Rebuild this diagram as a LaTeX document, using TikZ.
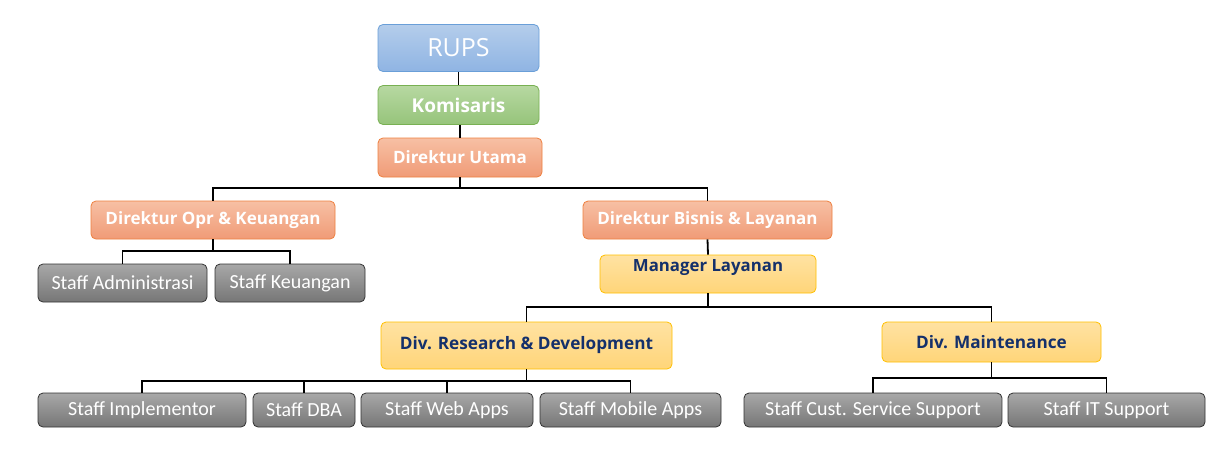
\documentclass[tikz,border=0pt]{standalone}
\usepackage{fontspec}
\setmainfont{Open Sans}
\newfontfamily\stafffont{Carlito}
\definecolor{bluetop}{HTML}{B4CDEB}
\definecolor{bluebot}{HTML}{8FB4E3}
\definecolor{blueline}{HTML}{6A9FD8}
\definecolor{greentop}{HTML}{B7D8A2}
\definecolor{greenbot}{HTML}{96C47A}
\definecolor{greenline}{HTML}{78B052}
\definecolor{orangetop}{HTML}{F7C0A4}
\definecolor{orangebot}{HTML}{F09B77}
\definecolor{orangeline}{HTML}{EE8040}
\definecolor{yellowtop}{HTML}{FFE2A2}
\definecolor{yellowbot}{HTML}{FFD579}
\definecolor{yellowline}{HTML}{FFC000}
\definecolor{navytext}{HTML}{14306B}
\definecolor{graytop}{HTML}{A8A8A8}
\definecolor{graybot}{HTML}{767676}
\definecolor{grayline}{HTML}{333333}
\begin{document}
\begin{tikzpicture}[x=1pt,y=-1pt,
  base/.style={rectangle, rounded corners=5pt, line width=0.8pt, inner sep=0pt, anchor=center},
  bluebox/.style={base, draw=blueline, top color=bluetop, bottom color=bluebot, text=white, font=\fontsize{25}{28}\selectfont},
  greenbox/.style={base, draw=greenline, top color=greentop, bottom color=greenbot, text=white, font=\bfseries\fontsize{19}{22}\selectfont},
  orangebox/.style={base, draw=orangeline, top color=orangetop, bottom color=orangebot, text=white, font=\bfseries\fontsize{17}{20}\selectfont},
  yellowbox/.style={base, draw=yellowline, top color=yellowtop, bottom color=yellowbot, text=navytext, font=\bfseries\fontsize{17.2}{20}\selectfont},
  graybox/.style={base, draw=grayline, top color=graytop, bottom color=graybot, text=white, font=\stafffont\fontsize{20}{24}\selectfont},
  link/.style={draw=black, line width=1.8pt}
]
\useasboundingbox[fill=white] (0,0) rectangle (1223,461);

\node[bluebox, minimum width=161pt, minimum height=47pt] (rups) at (458.5,48) {RUPS};
\node[greenbox, minimum width=161pt, minimum height=39pt] (kom) at (458.5,105) {Komisaris};
\node[orangebox, minimum width=164pt, minimum height=39pt] (dirut) at (460,157.5) {Direktur Utama};
\node[orangebox, minimum width=244pt, minimum height=38pt] (dopr) at (213,220) {Direktur Opr \& Keuangan};
\node[orangebox, minimum width=249pt, minimum height=38pt] (dbis) at (707.5,220) {Direktur Bisnis \& Layanan};
\node[graybox, minimum width=169pt, minimum height=38pt] (sadm) at (122.5,283) {Staff Administrasi};
\node[graybox, minimum width=150pt, minimum height=38pt] (skeu) at (290,283) {Staff Keuangan};
\node[yellowbox, minimum width=216pt, minimum height=38pt,
      label={[navytext, font=\bfseries\fontsize{16.8}{20}\selectfont, anchor=north, yshift=-1.5pt]north:Manager Layanan}] (mgr) at (708,274) {};
\node[yellowbox, minimum width=291pt, minimum height=47pt] (rnd) at (526.5,345.5) {Div. Research \& Development};
\node[yellowbox, minimum width=219pt, minimum height=40pt] (mnt) at (991.5,342) {Div. Maintenance};
\node[graybox, minimum width=208pt, minimum height=34pt] (simp) at (142,410) {Staff Implementor};
\node[graybox, minimum width=102pt, minimum height=34pt] (sdba) at (304,410) {Staff DBA};
\node[graybox, minimum width=172pt, minimum height=34pt] (sweb) at (447,410) {Staff Web Apps};
\node[graybox, minimum width=181pt, minimum height=34pt] (smob) at (630.5,410) {Staff Mobile Apps};
\node[graybox, minimum width=258pt, minimum height=34pt] (scs) at (873,410) {Staff Cust. Service Support};
\node[graybox, minimum width=197pt, minimum height=34pt] (sit) at (1106.5,410) {Staff IT Support};

\coordinate (j1) at (460,188);
\coordinate (j2) at (213,251);
\coordinate (j3) at (708,307);
\coordinate (j4) at (526.5,381);
\coordinate (j5) at (991.5,378);

\draw[link] (rups.south) -- (kom.north);
\draw[link] (kom.south -| dirut.north) -- (dirut.north);
\draw[link] (dirut.south) -- (j1);
\draw[link] (dopr.north) |- (j1) -| (dbis.north);
\draw[link] (dopr.south) -- (j2);
\draw[link] (sadm.north) |- (j2) -| (skeu.north);
\draw[link] (dbis.south) -- (mgr.north);
\draw[link] (mgr.south) -- (j3);
\draw[link] (rnd.north) |- (j3) -| (mnt.north);
\draw[link] (rnd.south) -- (j4);
\draw[link] (simp.north) |- (j4) -| (smob.north);
\draw[link] (sdba.north) -- (sdba.north |- j4);
\draw[link] (sweb.north) -- (sweb.north |- j4);
\draw[link] (mnt.south) -- (j5);
\draw[link] (scs.north) |- (j5) -| (sit.north);
\end{tikzpicture}
\end{document}
